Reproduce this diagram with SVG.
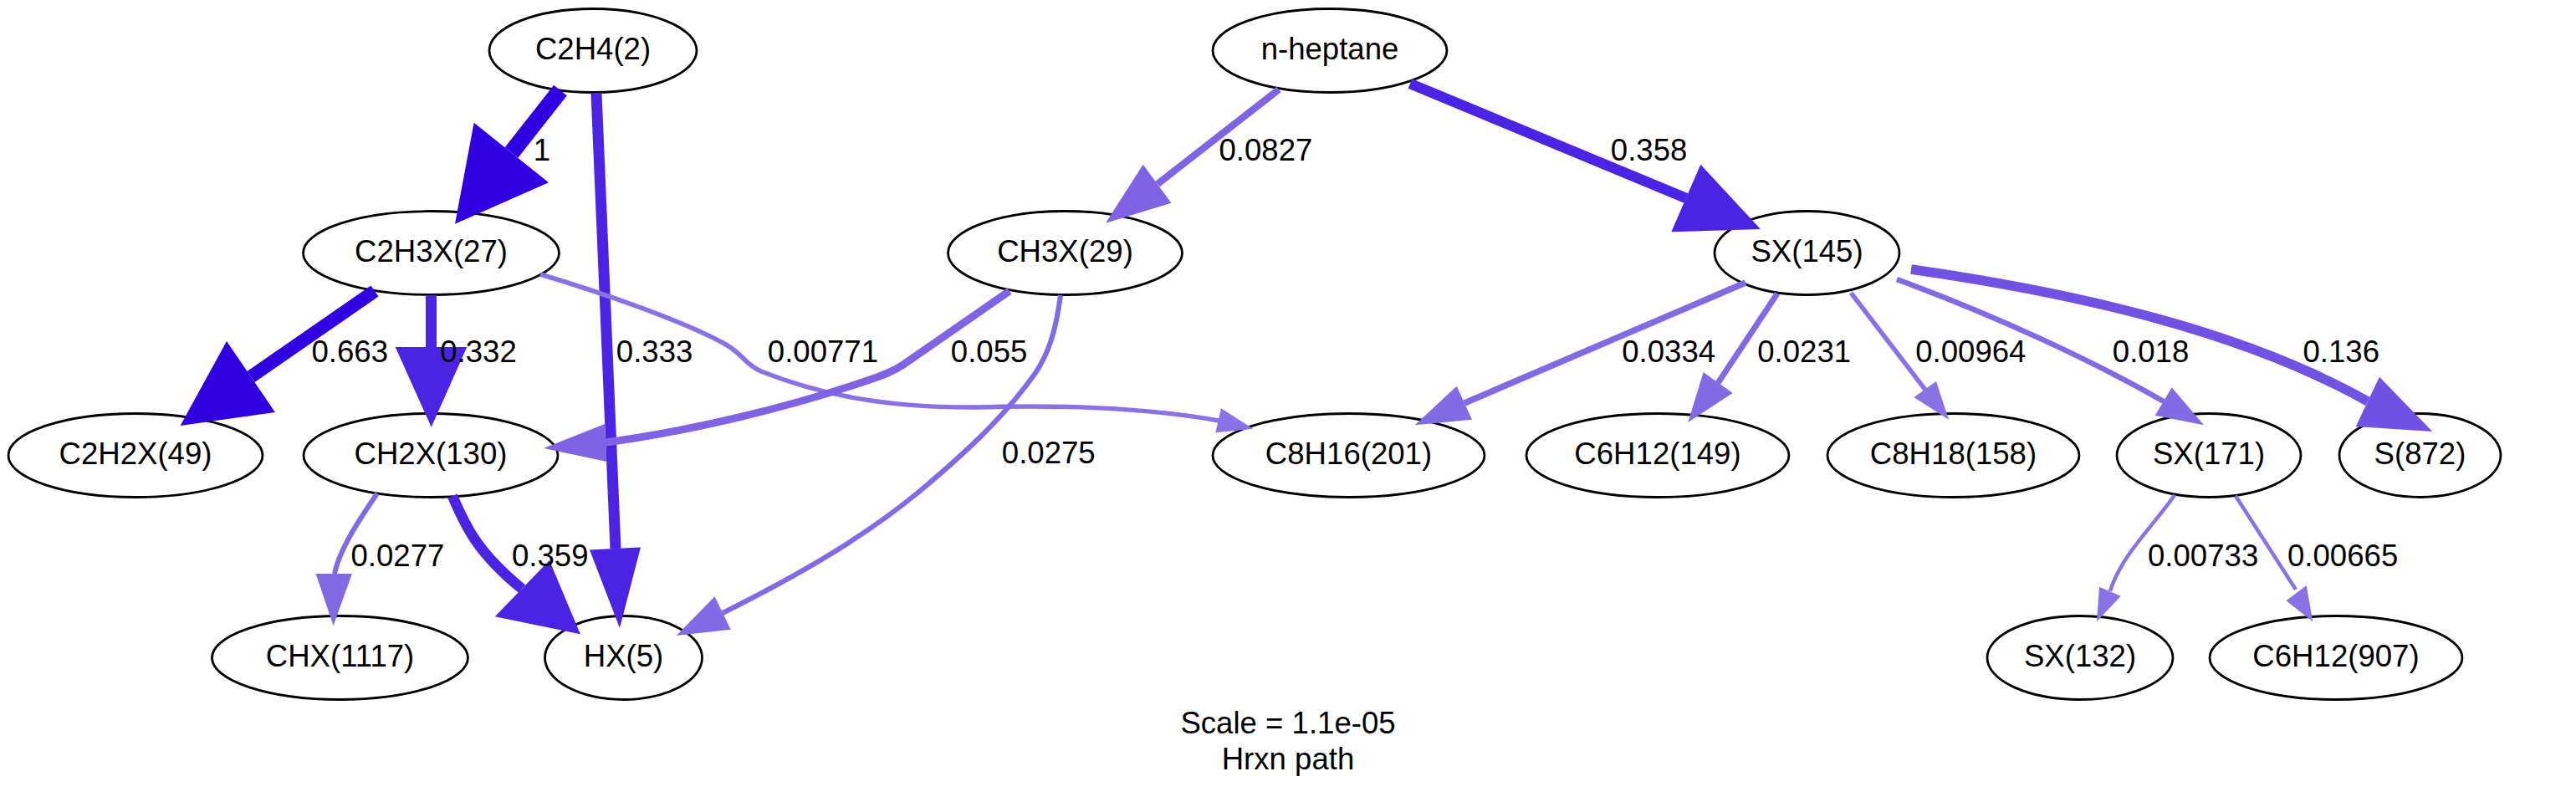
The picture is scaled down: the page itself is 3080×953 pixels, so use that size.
<svg xmlns="http://www.w3.org/2000/svg" width="3080" height="953" viewBox="0 0 3080 953">
<style>
text{font-family:"Liberation Sans",Arial,Helvetica,sans-serif;font-size:36.6px;fill:#000}
.node ellipse{fill:#fff;stroke:#000;stroke-width:2.8}
.node text{text-anchor:middle}
.edge path{fill:none}
.k1 path{stroke:#3100E0}.k1 polygon{fill:#3100E0}
.k2 path{stroke:#4B24E3}.k2 polygon{fill:#4B24E3}
.k3 path{stroke:#7152E3}.k3 polygon{fill:#7152E3}
.k4 path{stroke:#7F63E4}.k4 polygon{fill:#7F63E4}
.k5 path{stroke:#836AE5}.k5 polygon{fill:#836AE5}
.k6 path{stroke:#8A72E6}.k6 polygon{fill:#8A72E6}
.title{text-anchor:middle}
</style>
<rect width="3080" height="953" fill="#fff"/>
<g id="nodes">
<g id="C2H4_2" class="node"><ellipse cx="709" cy="60.5" rx="124" ry="50"/><text x="709" y="71">C2H4(2)</text></g>
<g id="n-heptane" class="node"><ellipse cx="1590" cy="60.5" rx="140" ry="50"/><text x="1590" y="71">n-heptane</text></g>
<g id="C2H3X_27" class="node"><ellipse cx="515.5" cy="302.5" rx="153" ry="50"/><text x="515.5" y="313">C2H3X(27)</text></g>
<g id="CH3X_29" class="node"><ellipse cx="1273.5" cy="302.5" rx="140" ry="50"/><text x="1273.5" y="313">CH3X(29)</text></g>
<g id="SX_145" class="node"><ellipse cx="2160.5" cy="302.5" rx="110.5" ry="50"/><text x="2160.5" y="313">SX(145)</text></g>
<g id="C2H2X_49" class="node"><ellipse cx="162" cy="544.5" rx="152" ry="50"/><text x="162" y="555">C2H2X(49)</text></g>
<g id="CH2X_130" class="node"><ellipse cx="515" cy="544.5" rx="152" ry="50"/><text x="515" y="555">CH2X(130)</text></g>
<g id="C8H16_201" class="node"><ellipse cx="1612.5" cy="544.5" rx="162.5" ry="50"/><text x="1612.5" y="555">C8H16(201)</text></g>
<g id="C6H12_149" class="node"><ellipse cx="1982" cy="544.5" rx="157" ry="50"/><text x="1982" y="555">C6H12(149)</text></g>
<g id="C8H18_158" class="node"><ellipse cx="2335.5" cy="544.5" rx="150.5" ry="50"/><text x="2335.5" y="555">C8H18(158)</text></g>
<g id="SX_171" class="node"><ellipse cx="2641" cy="544.5" rx="110" ry="50"/><text x="2641" y="555">SX(171)</text></g>
<g id="S_872" class="node"><ellipse cx="2893.5" cy="544.5" rx="96.5" ry="50"/><text x="2893.5" y="555">S(872)</text></g>
<g id="CHX_1117" class="node"><ellipse cx="406.5" cy="786.5" rx="153" ry="50"/><text x="406.5" y="797">CHX(1117)</text></g>
<g id="HX_5" class="node"><ellipse cx="745.5" cy="786.5" rx="94" ry="50"/><text x="745.5" y="797">HX(5)</text></g>
<g id="SX_132" class="node"><ellipse cx="2487" cy="786.5" rx="111" ry="50"/><text x="2487" y="797">SX(132)</text></g>
<g id="C6H12_907" class="node"><ellipse cx="2793" cy="786.5" rx="151" ry="50"/><text x="2793" y="797">C6H12(907)</text></g>
</g>
<g id="edges">
<g id="e1" class="edge k1"><path d="M670,108 L611.5,182.5" stroke-width="20"/><polygon points="566.7,146.7 656,218.3 544,267.7"/><text x="637.7" y="192">1</text></g>
<g id="e2" class="edge k2"><path d="M713,111 L736,656" stroke-width="13"/><polygon points="705,657.5 766,654.5 741,751"/><text x="736.8" y="433.3">0.333</text></g>
<g id="e3" class="edge k1"><path d="M448,348 L300,450.5" stroke-width="16"/><polygon points="271,408 329,493 215.6,509"/><text x="372.5" y="433.3">0.663</text></g>
<g id="e4" class="edge k2"><path d="M515.5,353 L515.5,416" stroke-width="13"/><polygon points="472.7,415 558.3,415 515.7,510.7"/><text x="526.2" y="433.3">0.332</text></g>
<g id="e5" class="edge k6"><path d="M646,328 C720,350 820,385 868,412 C890,425 890,435 910,444 C980,472 1060,488 1170,487 C1260,484 1370,487 1457,503" stroke-width="5.5"/><polygon points="1460,488.3 1453.3,517.3 1498.3,512.7"/><text x="917.8" y="433.3">0.00771</text></g>
<g id="e6" class="edge k4"><path d="M1207,348 L1080,436 Q1065,446 1040,454 C950,485 830,515 724,529" stroke-width="9"/><polygon points="723,507 725.5,552 650,536"/><text x="1136.8" y="433.3">0.055</text></g>
<g id="e7" class="edge k5"><path d="M1268,353 C1262,400 1252,425 1238,446 C1200,500 1150,545 1100,587 C1030,645 950,690 864,733" stroke-width="6"/><polygon points="854.6,713.3 873.7,752.7 808.7,760"/><text x="1197.8" y="554">0.0275</text></g>
<g id="e8" class="edge k4"><path d="M1529,107 L1384,220" stroke-width="8.5"/><polygon points="1366.7,196.7 1400.5,242.7 1322,266.7"/><text x="1457.5" y="191.7">0.0827</text></g>
<g id="e9" class="edge k2"><path d="M1686,100 L2016,237" stroke-width="12.5"/><polygon points="2033.3,196.7 1998.3,277.3 2105,274"/><text x="1925.8" y="191.7">0.358</text></g>
<g id="e10" class="edge k5"><path d="M2087,338 L1751,482" stroke-width="7.5"/><polygon points="1741.7,461.7 1760,501.7 1691.7,508.3"/><text x="1939.2" y="433.3">0.0334</text></g>
<g id="e11" class="edge k5"><path d="M2125,351 L2054,458" stroke-width="7"/><polygon points="2036.7,445 2071.7,470 2018.3,505"/><text x="2101.2" y="433.3">0.0231</text></g>
<g id="e12" class="edge k6"><path d="M2213,350 L2302,466" stroke-width="5.5"/><polygon points="2288.3,475 2315,456 2330,501.7"/><text x="2290.2" y="433.3">0.00964</text></g>
<g id="e13" class="edge k5"><path d="M2268,334 C2380,375 2500,430 2587,480" stroke-width="6.5"/><polygon points="2576.7,496.7 2596.7,463.3 2635,508.3"/><text x="2525.8" y="433.3">0.018</text></g>
<g id="e14" class="edge k3"><path d="M2285,322 C2480,350 2680,395 2831,480" stroke-width="11.5"/><polygon points="2845,450.7 2816.7,510 2908.3,516"/><text x="2753.5" y="433.3">0.136</text></g>
<g id="e15" class="edge k5"><path d="M451,590 C425,628 405,660 400,686" stroke-width="6"/><polygon points="377.6,686 420.9,686 398.6,748.3"/><text x="419.5" y="676.7">0.0277</text></g>
<g id="e16" class="edge k2"><path d="M541,593 C556,628 570,660 624,704" stroke-width="12.5"/><polygon points="591.8,737.3 656.9,670 693.9,758.3"/><text x="612" y="676.7">0.359</text></g>
<g id="e17" class="edge k6"><path d="M2600,592 C2578,625 2535,665 2523,707" stroke-width="4.5"/><polygon points="2510,701.7 2535.7,712.7 2507,743.3"/><text x="2568" y="676.7">0.00733</text></g>
<g id="e18" class="edge k6"><path d="M2673,593 L2745,705" stroke-width="4.5"/><polygon points="2733.4,718.3 2757.7,700 2765.3,743.3"/><text x="2735" y="676.7">0.00665</text></g>
</g>
<g id="label">
<text class="title" x="1540" y="877">Scale = 1.1e-05</text>
<text class="title" x="1540" y="920">Hrxn path</text>
</g>
</svg>
